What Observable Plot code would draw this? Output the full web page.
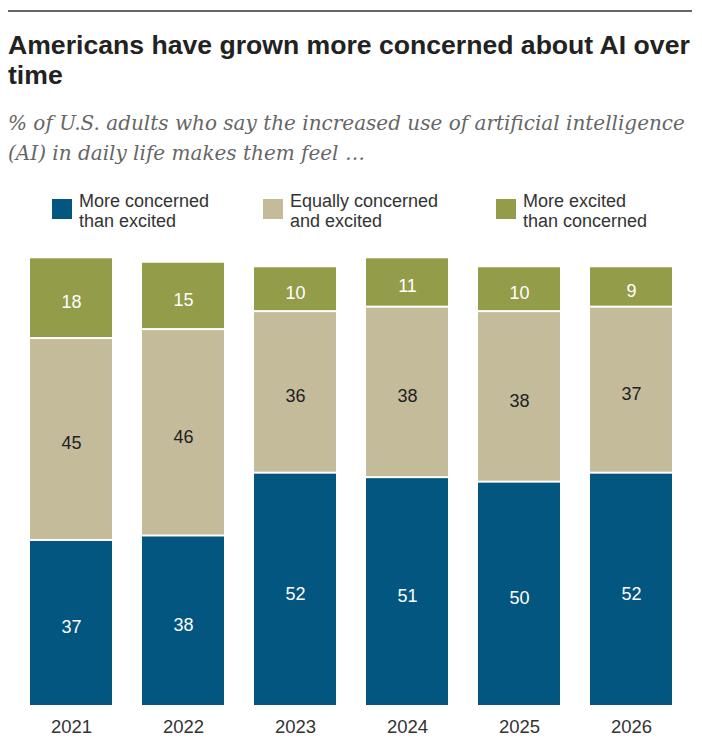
<!DOCTYPE html>
<html>
<head>
<meta charset="utf-8">
<script src="https://cdn.jsdelivr.net/npm/d3@7"></script>
<script src="https://cdn.jsdelivr.net/npm/@observablehq/plot@0.6"></script>
<style>
  html, body { margin: 0; padding: 0; background: #fff; }
  #page { position: relative; width: 702px; height: 746px; overflow: hidden; }
  .abs { position: absolute; white-space: nowrap; }
  #rule { left: 8px; top: 10px; width: 684px; height: 0; border-top: 2px solid #666; }
  .title { font-family: "Liberation Sans", Arial, sans-serif; font-weight: bold; font-size: 26.5px; color: #222; line-height: 30px; left: 8px; }
  .sub { font-family: "DejaVu Serif", serif; font-style: italic; font-size: 19px; color: #666; line-height: 30px; left: 8px; }
  .leg { font-family: "Liberation Sans", Arial, sans-serif; font-size: 18px; color: #333; line-height: 20px; }
  .sw { width: 20px; height: 20px; }
  #chart { position: absolute; left: 0; top: 240px; }
</style>
</head>
<body>
<div id="page">
  <div id="rule" class="abs"></div>
  <div class="abs title" id="t1" style="top:30px">Americans have grown more concerned about AI over</div>
  <div class="abs title" id="t2" style="top:60px">time</div>
  <div class="abs sub" id="s1" style="top:108px">% of U.S. adults who say the increased use of artificial intelligence</div>
  <div class="abs sub" id="s2" style="top:138px">(AI) in daily life makes them feel …</div>
  <div id="legend"></div>
  <div id="chart"></div>
</div>
<script>
const years = ["2021", "2022", "2023", "2024", "2025", "2026"];
const concerned = [37, 38, 52, 51, 50, 52];
const equally = [45, 46, 36, 38, 38, 37];
const excited = [18, 15, 10, 11, 10, 9];
const categories = ["More concerned than excited", "Equally concerned and excited", "More excited than concerned"];
const legendLines = [["More concerned", "than excited"], ["Equally concerned", "and excited"], ["More excited", "than concerned"]];
const colors = ["#03567f", "#c4bb9b", "#939c48"];

// fit title/subtitle lines to reference widths
function fit(id, target) {
  const el = document.getElementById(id);
  const fs = parseFloat(getComputedStyle(el).fontSize);
  const w = el.getBoundingClientRect().width;
  el.style.fontSize = (fs * target / w) + "px";
}
fit("t1", 682);
fit("s1", 677);
document.getElementById("t2").style.fontSize = document.getElementById("t1").style.fontSize;
document.getElementById("s2").style.fontSize = document.getElementById("s1").style.fontSize;

// legend
const legendX = [52, 263, 496];
const legend = document.getElementById("legend");
categories.forEach((c, i) => {
  const sw = document.createElement("div");
  sw.className = "abs sw";
  sw.style.left = legendX[i] + "px";
  sw.style.top = "199px";
  sw.style.background = colors[i];
  legend.appendChild(sw);
  const tx = document.createElement("div");
  tx.className = "abs leg";
  tx.style.left = (legendX[i] + 27) + "px";
  tx.style.top = "191px";
  tx.innerHTML = legendLines[i].join("<br>");
  legend.appendChild(tx);
});

const data = years.flatMap((y, i) => [
  {year: y, cat: categories[0], value: concerned[i]},
  {year: y, cat: categories[1], value: equally[i]},
  {year: y, cat: categories[2], value: excited[i]}
]);

const stackOpts = {x: "year", y: "value", z: "cat", order: categories};

const chart = Plot.plot({
  width: 702,
  height: 506,
  marginTop: 17.3,
  marginBottom: 40,
  marginLeft: 0,
  marginRight: 0,
  style: {fontFamily: "Liberation Sans, Arial, sans-serif", fontSize: "18.5px", color: "#333", background: "white"},
  x: {domain: years, padding: 0.265, label: null, tickSize: 0, tickPadding: 13},
  y: {domain: [0, 100], axis: null},
  color: {domain: categories, range: colors},
  marks: [
    Plot.barY(data, Plot.stackY({...stackOpts, fill: "cat", insetTop: 1, insetBottom: 1})),
    Plot.text(data, Plot.filter(d => d.cat !== categories[1], Plot.stackY({...stackOpts, text: d => String(d.value), fill: "white", fontSize: 18, dy: 4}))),
    Plot.text(data, Plot.filter(d => d.cat === categories[1], Plot.stackY({...stackOpts, text: d => String(d.value), fill: "#222", fontSize: 18, dy: 4})))
  ]
});
document.getElementById("chart").appendChild(chart);
</script>
</body>
</html>
